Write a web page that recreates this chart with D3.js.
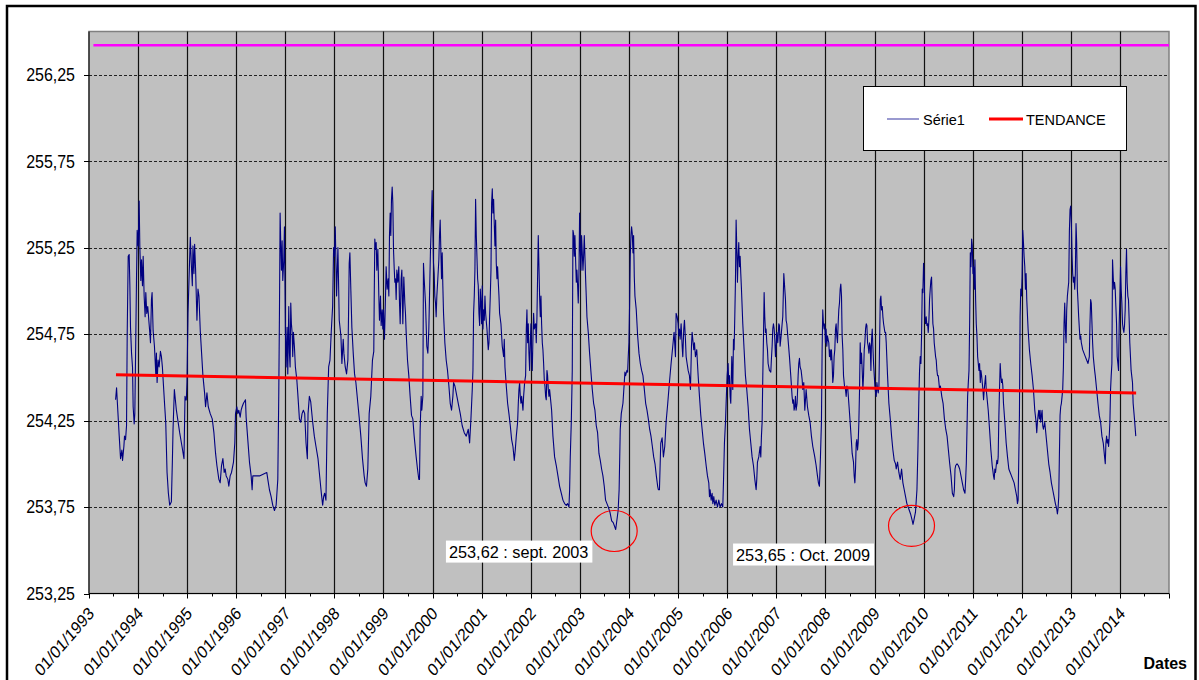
<!DOCTYPE html>
<html><head><meta charset="utf-8">
<script src="https://cdn.jsdelivr.net/npm/d3@7/dist/d3.min.js"></script>
<style>
body{margin:0;background:#fff;}
svg{display:block;font-family:Arial,"Liberation Sans",sans-serif;}
</style>
</head><body>
<svg id="chart" width="1199" height="680"></svg>
<script>
// ---------------- DATA ----------------
const yTicks = [253.25, 253.75, 254.25, 254.75, 255.25, 255.75, 256.25];
const xTickYears = [1993,1994,1995,1996,1997,1998,1999,2000,2001,2002,2003,2004,2005,2006,2007,2008,2009,2010,2011,2012,2013,2014];
const referenceLevel = 256.42;
const referenceSpan = [1993.09, 2015.0];
const trendDates = [1993.55, 2014.33];
const trendLevels = [254.515, 254.41];
const legendNames = ["Série1", "TENDANCE"];
const minimaDates = [2003.73, 2009.785];
const minimaLevels = [253.62, 253.65];
const minimaLabels = ["253,62 : sept. 2003", "253,65 : Oct. 2009"];
const labelDates = [2000.272, 2006.12];
const labelLevels = [253.556, 253.539];

// Série1 : [decimal year, level]
const serie1 = [
[1993.542,254.37],[1993.562,254.44],[1993.575,254.37],[1993.616,254.16],[1993.643,254.03],[1993.670,254.08],[1993.684,254.02],[1993.711,254.10],[1993.724,254.16],[1993.745,254.14],[1993.765,254.22],[1993.779,254.76],[1993.799,255.20],[1993.819,255.21],[1993.833,255.03],[1993.846,254.79],[1993.867,254.64],[1993.887,254.56],[1993.900,254.33],[1993.921,254.23],[1993.934,254.29],[1993.955,254.76],[1993.968,255.06],[1993.982,255.35],
[1994.002,255.26],[1994.022,255.52],[1994.036,255.26],[1994.056,255.06],[1994.070,255.18],[1994.090,255.03],[1994.104,255.20],[1994.124,254.97],[1994.144,254.85],[1994.158,254.99],[1994.178,254.87],[1994.198,254.91],[1994.219,254.83],[1994.239,254.76],[1994.253,254.70],[1994.273,254.95],[1994.286,254.99],[1994.307,254.77],[1994.334,254.68],[1994.361,254.52],[1994.374,254.64],[1994.388,254.47],[1994.408,254.60],[1994.429,254.56],[1994.456,254.65],[1994.476,254.62],[1994.496,254.56],[1994.510,254.49],[1994.544,254.33],[1994.564,254.24],[1994.591,253.95],[1994.618,253.83],[1994.645,253.76],[1994.679,253.78],[1994.699,254.01],[1994.713,254.20],[1994.740,254.43],[1994.781,254.31],[1994.848,254.18],[1994.896,254.10],[1994.936,254.03],[1994.957,254.39],[1994.970,254.37],[1994.984,254.37],[1994.997,254.47],
[1995.018,254.87],[1995.038,255.06],[1995.065,255.31],[1995.085,255.16],[1995.106,255.03],[1995.119,255.26],[1995.139,255.10],[1995.153,255.27],[1995.173,255.12],[1995.200,254.83],[1995.221,255.01],[1995.241,254.97],[1995.268,254.77],[1995.295,254.64],[1995.322,254.51],[1995.356,254.41],[1995.376,254.33],[1995.404,254.41],[1995.431,254.33],[1995.471,254.29],[1995.512,254.26],[1995.546,254.18],[1995.580,254.06],[1995.607,253.99],[1995.647,253.91],[1995.674,253.89],[1995.701,253.99],[1995.729,254.03],[1995.756,253.95],[1995.776,253.97],[1995.796,253.93],[1995.830,253.91],[1995.850,253.87],[1995.877,253.93],[1995.905,253.95],[1995.945,254.01],[1995.972,254.12],[1995.986,254.29],
[1996.013,254.33],[1996.033,254.29],[1996.053,254.31],[1996.081,254.27],[1996.101,254.31],[1996.121,254.33],[1996.148,254.35],[1996.169,254.36],[1996.189,254.37],[1996.202,254.27],[1996.236,254.14],[1996.270,254.01],[1996.304,253.93],[1996.324,253.85],[1996.338,253.93],[1996.473,253.93],[1996.622,253.95],[1996.643,253.91],[1996.676,253.85],[1996.710,253.81],[1996.744,253.76],[1996.778,253.73],[1996.812,253.76],[1996.846,253.91],[1996.866,254.41],[1996.880,254.89],[1996.893,255.45],[1996.907,255.26],[1996.920,255.12],[1996.934,255.29],[1996.947,255.06],[1996.968,255.18],[1996.981,255.37],
[1997.001,254.76],[1997.015,254.56],[1997.035,254.79],[1997.049,254.52],[1997.069,254.91],[1997.083,254.64],[1997.096,254.56],[1997.110,254.93],[1997.123,254.81],[1997.137,254.76],[1997.150,254.62],[1997.164,254.76],[1997.184,254.68],[1997.204,254.56],[1997.232,254.49],[1997.252,254.41],[1997.286,254.26],[1997.313,254.24],[1997.340,254.29],[1997.367,254.31],[1997.394,254.29],[1997.421,254.12],[1997.448,254.03],[1997.462,254.29],[1997.489,254.39],[1997.516,254.36],[1997.557,254.24],[1997.590,254.16],[1997.624,254.10],[1997.665,254.03],[1997.692,253.95],[1997.733,253.83],[1997.760,253.76],[1997.780,253.81],[1997.800,253.83],[1997.827,253.79],[1997.854,254.29],[1997.882,254.56],[1997.909,254.60],[1997.936,254.77],[1997.963,254.91],[1997.983,255.25],[1997.997,255.20],
[1998.017,255.37],[1998.031,255.16],[1998.044,254.97],[1998.058,255.12],[1998.071,255.25],[1998.098,254.83],[1998.132,254.74],[1998.152,254.58],[1998.179,254.72],[1998.193,254.64],[1998.220,254.56],[1998.247,254.52],[1998.274,254.60],[1998.288,254.87],[1998.301,255.16],[1998.315,255.22],[1998.335,255.00],[1998.355,254.79],[1998.383,254.64],[1998.410,254.52],[1998.437,254.47],[1998.477,254.35],[1998.504,254.27],[1998.538,254.16],[1998.572,254.03],[1998.606,253.93],[1998.626,253.89],[1998.653,253.87],[1998.680,253.97],[1998.708,254.29],[1998.741,254.39],[1998.775,254.60],[1998.802,254.65],[1998.810,254.93],[1998.823,255.30],[1998.837,255.24],[1998.851,255.28],[1998.864,255.12],[1998.885,255.24],[1998.905,254.97],[1998.918,254.83],[1998.939,254.97],[1998.952,254.80],[1998.973,254.89],[1998.986,254.78],
[1999.000,254.89],[1999.020,254.72],[1999.041,254.97],[1999.054,255.14],[1999.075,255.01],[1999.095,255.07],[1999.109,254.97],[1999.122,255.32],[1999.136,255.45],[1999.149,255.32],[1999.163,255.53],[1999.177,255.60],[1999.190,255.51],[1999.204,255.24],[1999.217,255.14],[1999.231,255.05],[1999.245,255.07],[1999.258,254.95],[1999.272,255.12],[1999.292,255.05],[1999.312,255.14],[1999.326,254.93],[1999.340,254.81],[1999.360,255.07],[1999.374,255.12],[1999.394,254.81],[1999.414,255.08],[1999.435,254.93],[1999.448,254.87],[1999.462,254.76],[1999.489,254.60],[1999.516,254.51],[1999.543,254.39],[1999.571,254.28],[1999.598,254.26],[1999.625,254.16],[1999.666,254.04],[1999.693,253.97],[1999.720,253.91],[1999.734,253.91],[1999.747,254.20],[1999.768,254.39],[1999.781,254.31],[1999.802,254.39],[1999.815,255.16],[1999.829,255.07],[1999.856,254.93],[1999.883,254.68],[1999.904,254.64],[1999.924,254.78],[1999.938,254.97],[1999.958,255.24],[1999.971,255.35],[1999.992,255.58],
[2000.005,255.37],[2000.019,255.16],[2000.033,255.10],[2000.046,254.97],[2000.060,254.93],[2000.073,254.85],[2000.087,254.97],[2000.107,255.07],[2000.128,255.18],[2000.141,255.32],[2000.155,255.41],[2000.168,255.24],[2000.182,255.07],[2000.196,255.22],[2000.209,255.03],[2000.223,254.87],[2000.250,254.70],[2000.277,254.60],[2000.304,254.54],[2000.332,254.45],[2000.359,254.35],[2000.386,254.31],[2000.413,254.39],[2000.427,254.47],[2000.454,254.45],[2000.481,254.41],[2000.522,254.35],[2000.563,254.29],[2000.603,254.22],[2000.644,254.18],[2000.685,254.16],[2000.726,254.20],[2000.753,254.12],[2000.780,254.26],[2000.807,254.43],[2000.821,254.54],[2000.834,254.87],[2000.848,254.97],[2000.861,255.12],[2000.875,255.53],[2000.889,255.32],[2000.902,255.20],[2000.916,255.07],[2000.929,255.03],[2000.943,254.87],[2000.957,254.80],[2000.970,255.01],[2000.984,254.93],[2000.997,254.81],
[2001.011,255.03],[2001.024,254.78],[2001.038,254.89],[2001.052,254.83],[2001.065,254.97],[2001.079,254.87],[2001.106,254.78],[2001.133,254.66],[2001.147,254.70],[2001.160,254.85],[2001.174,254.97],[2001.188,255.12],[2001.201,255.51],[2001.215,255.59],[2001.228,255.45],[2001.242,255.53],[2001.255,255.39],[2001.269,255.26],[2001.283,255.41],[2001.296,255.16],[2001.310,255.07],[2001.323,255.14],[2001.337,255.05],[2001.351,254.97],[2001.364,254.87],[2001.391,254.81],[2001.418,254.68],[2001.446,254.62],[2001.459,254.72],[2001.473,254.56],[2001.500,254.45],[2001.527,254.35],[2001.554,254.29],[2001.582,254.22],[2001.609,254.14],[2001.636,254.10],[2001.663,254.02],[2001.683,254.08],[2001.704,254.16],[2001.731,254.24],[2001.745,254.35],[2001.758,254.43],[2001.772,254.47],[2001.785,254.39],[2001.799,254.35],[2001.813,254.39],[2001.840,254.31],[2001.853,254.39],[2001.874,254.47],[2001.894,254.51],[2001.908,254.78],[2001.921,254.89],[2001.935,254.70],[2001.948,254.81],[2001.962,254.64],[2001.976,254.54],[2001.989,254.70],
[2002.003,254.81],[2002.016,254.62],[2002.030,254.54],[2002.043,254.72],[2002.057,254.87],[2002.071,254.78],[2002.084,254.80],[2002.098,254.81],[2002.111,254.70],[2002.125,254.85],[2002.152,255.32],[2002.166,255.14],[2002.179,254.97],[2002.193,254.85],[2002.207,254.97],[2002.220,254.81],[2002.234,254.70],[2002.247,254.66],[2002.261,254.58],[2002.274,254.49],[2002.288,254.45],[2002.302,254.39],[2002.315,254.37],[2002.329,254.54],[2002.342,254.51],[2002.356,254.43],[2002.370,254.39],[2002.383,254.43],[2002.397,254.39],[2002.424,254.31],[2002.451,254.16],[2002.485,254.04],[2002.519,253.99],[2002.553,253.93],[2002.587,253.87],[2002.621,253.83],[2002.655,253.79],[2002.689,253.77],[2002.723,253.76],[2002.750,253.77],[2002.777,253.75],[2002.791,253.85],[2002.804,254.04],[2002.825,254.24],[2002.845,254.54],[2002.859,255.35],[2002.872,255.33],[2002.886,255.20],[2002.899,255.32],[2002.913,255.18],[2002.927,255.05],[2002.940,255.12],[2002.954,255.03],[2002.967,254.93],[2002.981,255.10],[2002.995,255.45],
[2003.008,255.24],[2003.022,255.12],[2003.035,255.32],[2003.049,255.22],[2003.063,255.12],[2003.076,255.20],[2003.090,255.32],[2003.103,255.20],[2003.117,255.07],[2003.130,254.97],[2003.144,254.85],[2003.171,254.76],[2003.198,254.64],[2003.226,254.53],[2003.253,254.43],[2003.280,254.35],[2003.307,254.31],[2003.334,254.22],[2003.361,254.18],[2003.389,254.06],[2003.416,254.02],[2003.443,253.97],[2003.470,253.93],[2003.497,253.87],[2003.524,253.79],[2003.552,253.77],[2003.579,253.75],[2003.613,253.72],[2003.648,253.67],[2003.680,253.66],[2003.730,253.62],[2003.780,253.73],[2003.800,253.85],[2003.823,254.20],[2003.844,254.29],[2003.878,254.35],[2003.905,254.47],[2003.918,254.53],[2003.932,254.51],[2003.959,254.54],[2003.973,254.53],[2003.986,254.62],
[2004.000,254.70],[2004.014,254.93],[2004.027,255.20],[2004.041,255.32],[2004.054,255.37],[2004.068,255.33],[2004.082,255.22],[2004.095,255.32],[2004.109,255.08],[2004.122,254.97],[2004.149,254.89],[2004.177,254.74],[2004.204,254.64],[2004.231,254.58],[2004.258,254.54],[2004.285,254.51],[2004.313,254.43],[2004.340,254.35],[2004.367,254.31],[2004.394,254.26],[2004.421,254.20],[2004.448,254.16],[2004.476,254.10],[2004.503,254.04],[2004.530,254.00],[2004.557,253.93],[2004.584,253.87],[2004.598,253.85],[2004.620,253.85],[2004.647,254.12],[2004.674,254.15],[2004.701,254.04],[2004.728,254.10],[2004.755,254.24],[2004.789,254.35],[2004.823,254.47],[2004.857,254.58],[2004.891,254.68],[2004.918,254.76],[2004.946,254.62],[2004.959,254.87],[2004.980,254.85],
[2005.000,254.81],[2005.014,254.74],[2005.027,254.78],[2005.041,254.72],[2005.061,254.81],[2005.082,254.68],[2005.095,254.62],[2005.115,254.78],[2005.129,254.83],[2005.149,254.72],[2005.163,254.62],[2005.183,254.58],[2005.204,254.54],[2005.231,254.51],[2005.251,254.43],[2005.272,254.68],[2005.285,254.76],[2005.299,254.72],[2005.319,254.66],[2005.333,254.70],[2005.353,254.62],[2005.380,254.66],[2005.394,254.58],[2005.408,254.51],[2005.435,254.39],[2005.462,254.28],[2005.489,254.20],[2005.516,254.12],[2005.543,254.06],[2005.571,253.99],[2005.598,253.93],[2005.625,253.89],[2005.639,253.81],[2005.652,253.85],[2005.673,253.79],[2005.693,253.83],[2005.707,253.77],[2005.727,253.81],[2005.747,253.76],[2005.774,253.79],[2005.802,253.75],[2005.829,253.79],[2005.856,253.75],[2005.883,253.77],[2005.910,253.75],[2005.924,253.89],[2005.944,254.12],[2005.965,254.24],[2005.978,254.35],[2005.999,254.51],
[2006.019,254.58],[2006.033,254.45],[2006.046,254.51],[2006.060,254.39],[2006.073,254.35],[2006.094,254.62],[2006.114,254.43],[2006.128,254.72],[2006.141,254.66],[2006.155,254.85],[2006.168,255.05],[2006.182,255.41],[2006.196,255.24],[2006.209,255.05],[2006.223,255.20],[2006.236,255.28],[2006.250,255.14],[2006.264,255.20],[2006.277,255.10],[2006.291,255.01],[2006.318,254.81],[2006.345,254.66],[2006.372,254.51],[2006.399,254.43],[2006.427,254.33],[2006.454,254.20],[2006.481,254.12],[2006.508,254.04],[2006.535,253.99],[2006.563,253.91],[2006.590,253.85],[2006.603,253.91],[2006.617,254.01],[2006.644,254.04],[2006.671,254.10],[2006.685,254.04],[2006.698,254.16],[2006.712,254.24],[2006.726,254.51],[2006.739,254.72],[2006.753,254.99],[2006.766,254.85],[2006.780,254.76],[2006.793,254.78],[2006.807,254.70],[2006.821,254.66],[2006.834,254.58],[2006.861,254.54],[2006.889,254.53],[2006.902,254.61],[2006.916,254.68],[2006.929,254.78],[2006.943,254.81],[2006.957,254.78],[2006.970,254.72],[2006.984,254.62],[2006.997,254.68],
[2007.011,254.76],[2007.031,254.70],[2007.052,254.81],[2007.065,254.80],[2007.079,254.68],[2007.099,254.74],[2007.120,254.81],[2007.133,254.85],[2007.154,255.10],[2007.174,255.01],[2007.188,254.95],[2007.201,254.83],[2007.215,254.81],[2007.235,254.74],[2007.269,254.62],[2007.296,254.51],[2007.323,254.39],[2007.337,254.35],[2007.351,254.37],[2007.364,254.31],[2007.378,254.33],[2007.391,254.39],[2007.405,254.31],[2007.425,254.35],[2007.446,254.51],[2007.459,254.58],[2007.473,254.61],[2007.486,254.56],[2007.507,254.54],[2007.527,254.49],[2007.541,254.43],[2007.561,254.47],[2007.582,254.31],[2007.609,254.43],[2007.636,254.33],[2007.663,254.28],[2007.690,254.24],[2007.717,254.16],[2007.745,254.10],[2007.772,254.06],[2007.785,254.04],[2007.813,253.99],[2007.840,253.93],[2007.860,253.89],[2007.880,253.87],[2007.901,254.04],[2007.921,254.24],[2007.935,254.66],[2007.948,254.89],[2007.962,254.81],[2007.976,254.78],[2007.989,254.81],
[2008.003,254.70],[2008.016,254.78],[2008.030,254.68],[2008.043,254.74],[2008.057,254.72],[2008.071,254.70],[2008.084,254.62],[2008.098,254.66],[2008.111,254.60],[2008.125,254.66],[2008.139,254.58],[2008.152,254.47],[2008.166,254.51],[2008.179,254.62],[2008.193,254.66],[2008.207,254.78],[2008.220,254.81],[2008.234,254.74],[2008.247,254.70],[2008.261,254.81],[2008.274,254.89],[2008.288,254.93],[2008.302,255.01],[2008.315,255.04],[2008.329,254.97],[2008.342,254.74],[2008.356,254.66],[2008.370,254.51],[2008.390,254.45],[2008.410,254.43],[2008.424,254.39],[2008.438,254.45],[2008.458,254.43],[2008.478,254.35],[2008.505,254.24],[2008.533,254.12],[2008.546,254.06],[2008.573,254.01],[2008.587,253.93],[2008.601,253.89],[2008.614,253.97],[2008.628,254.12],[2008.641,254.14],[2008.655,254.08],[2008.668,254.12],[2008.682,254.24],[2008.696,254.43],[2008.709,254.70],[2008.723,254.58],[2008.736,254.64],[2008.750,254.54],[2008.764,254.43],[2008.777,254.51],[2008.791,254.66],[2008.804,254.70],[2008.818,254.78],[2008.832,254.81],[2008.845,254.80],[2008.859,254.70],[2008.872,254.68],[2008.886,254.64],[2008.899,254.70],[2008.913,254.68],[2008.927,254.54],[2008.940,254.72],[2008.954,254.78],[2008.967,254.68],[2008.981,254.58],[2008.995,254.51],
[2009.008,254.45],[2009.022,254.41],[2009.035,254.39],[2009.049,254.47],[2009.063,254.43],[2009.076,254.41],[2009.090,254.45],[2009.103,254.68],[2009.117,254.95],[2009.130,254.97],[2009.144,254.89],[2009.158,254.91],[2009.171,254.85],[2009.185,254.81],[2009.212,254.76],[2009.226,254.76],[2009.239,254.70],[2009.266,254.51],[2009.293,254.35],[2009.321,254.26],[2009.348,254.16],[2009.375,254.08],[2009.402,254.02],[2009.429,254.00],[2009.443,253.97],[2009.470,254.01],[2009.497,253.95],[2009.524,253.91],[2009.552,253.97],[2009.579,253.89],[2009.606,253.85],[2009.633,253.81],[2009.660,253.77],[2009.698,253.74],[2009.735,253.71],[2009.770,253.67],[2009.785,253.65],[2009.800,253.67],[2009.835,253.72],[2009.865,253.85],[2009.885,254.08],[2009.905,254.39],[2009.918,254.54],[2009.932,254.62],[2009.946,254.58],[2009.959,254.74],[2009.973,255.01],[2009.986,254.99],
[2010.000,255.16],[2010.014,255.08],[2010.027,254.85],[2010.041,254.81],[2010.054,254.85],[2010.068,254.80],[2010.082,254.81],[2010.095,254.76],[2010.109,254.83],[2010.122,254.95],[2010.136,255.01],[2010.149,255.06],[2010.163,255.08],[2010.177,254.93],[2010.190,254.81],[2010.204,254.78],[2010.217,254.70],[2010.231,254.66],[2010.245,254.62],[2010.258,254.60],[2010.272,254.54],[2010.285,254.51],[2010.299,254.51],[2010.313,254.47],[2010.326,254.43],[2010.343,254.45],[2010.371,254.39],[2010.398,254.35],[2010.425,254.26],[2010.452,254.20],[2010.479,254.16],[2010.506,254.08],[2010.533,254.00],[2010.560,253.93],[2010.587,253.83],[2010.614,253.81],[2010.628,253.85],[2010.641,253.97],[2010.655,253.99],[2010.682,254.00],[2010.709,253.99],[2010.736,253.97],[2010.763,253.93],[2010.790,253.89],[2010.817,253.85],[2010.844,253.83],[2010.858,253.91],[2010.871,254.00],[2010.885,254.20],[2010.898,254.39],[2010.912,254.47],[2010.926,254.54],[2010.939,254.81],[2010.946,255.01],[2010.953,255.22],[2010.966,255.14],[2010.980,255.30],[2010.993,255.26],
[2011.007,255.10],[2011.020,255.14],[2011.034,255.01],[2011.047,255.18],[2011.061,254.95],[2011.074,254.81],[2011.088,254.74],[2011.102,254.62],[2011.129,254.54],[2011.142,254.58],[2011.156,254.47],[2011.169,254.54],[2011.183,254.51],[2011.196,254.47],[2011.210,254.43],[2011.223,254.37],[2011.237,254.43],[2011.250,254.47],[2011.264,254.51],[2011.277,254.43],[2011.291,254.39],[2011.318,254.31],[2011.345,254.20],[2011.372,254.08],[2011.399,253.99],[2011.426,253.93],[2011.440,253.91],[2011.453,253.97],[2011.467,253.95],[2011.481,253.99],[2011.494,254.02],[2011.508,254.00],[2011.521,254.04],[2011.535,254.28],[2011.548,254.43],[2011.562,254.58],[2011.575,254.51],[2011.589,254.47],[2011.602,254.49],[2011.616,254.45],[2011.629,254.35],[2011.657,254.24],[2011.684,254.12],[2011.711,254.04],[2011.738,253.97],[2011.765,253.95],[2011.792,253.93],[2011.819,253.91],[2011.846,253.89],[2011.873,253.85],[2011.900,253.81],[2011.914,253.77],[2011.927,253.79],[2011.941,254.04],[2011.954,254.28],[2011.968,254.85],[2011.981,255.01],[2011.995,254.97],
[2012.008,255.08],[2012.022,255.35],[2012.036,255.28],[2012.049,255.20],[2012.063,255.14],[2012.076,255.01],[2012.090,255.10],[2012.103,254.95],[2012.130,254.78],[2012.157,254.66],[2012.184,254.58],[2012.212,254.51],[2012.239,254.43],[2012.266,254.31],[2012.293,254.24],[2012.306,254.18],[2012.320,254.24],[2012.333,254.28],[2012.347,254.31],[2012.360,254.26],[2012.374,254.31],[2012.387,254.24],[2012.401,254.28],[2012.415,254.31],[2012.428,254.22],[2012.442,254.20],[2012.469,254.24],[2012.496,254.16],[2012.523,254.08],[2012.550,254.00],[2012.577,253.95],[2012.604,253.89],[2012.631,253.85],[2012.658,253.81],[2012.685,253.77],[2012.712,253.74],[2012.726,253.71],[2012.739,253.74],[2012.753,253.81],[2012.766,254.04],[2012.780,254.28],[2012.793,254.33],[2012.807,254.35],[2012.821,254.39],[2012.834,254.43],[2012.848,254.56],[2012.861,254.81],[2012.875,254.93],[2012.888,254.78],[2012.902,254.70],[2012.915,254.89],[2012.929,254.97],[2012.942,255.01],[2012.956,255.05],[2012.970,255.35],[2012.983,255.47],[2012.997,255.49],
[2013.010,255.39],[2013.024,255.20],[2013.037,255.10],[2013.051,255.05],[2013.064,255.08],[2013.078,255.01],[2013.091,255.10],[2013.105,255.39],[2013.118,255.28],[2013.132,255.01],[2013.146,254.93],[2013.159,254.85],[2013.173,254.78],[2013.186,254.72],[2013.200,254.74],[2013.213,254.70],[2013.227,254.68],[2013.240,254.66],[2013.267,254.64],[2013.294,254.62],[2013.321,254.60],[2013.349,254.58],[2013.376,254.62],[2013.389,254.81],[2013.403,254.95],[2013.416,254.93],[2013.430,254.81],[2013.443,254.70],[2013.457,254.62],[2013.470,254.58],[2013.484,254.54],[2013.497,254.51],[2013.525,254.43],[2013.552,254.35],[2013.579,254.28],[2013.606,254.24],[2013.633,254.16],[2013.660,254.12],[2013.687,254.04],[2013.701,254.00],[2013.714,254.12],[2013.728,254.16],[2013.741,254.12],[2013.755,254.14],[2013.768,254.10],[2013.782,254.16],[2013.795,254.24],[2013.809,254.43],[2013.822,254.51],[2013.836,254.58],[2013.849,255.18],[2013.863,255.08],[2013.876,255.01],[2013.890,255.05],[2013.904,255.01],[2013.917,254.91],[2013.931,254.81],[2013.944,254.62],[2013.958,254.58],[2013.971,254.54],[2013.985,254.81],[2013.998,254.95],
[2014.012,255.14],[2014.025,255.01],[2014.039,254.93],[2014.053,254.81],[2014.066,254.78],[2014.080,254.76],[2014.093,254.80],[2014.107,254.89],[2014.120,255.10],[2014.134,255.24],[2014.147,255.05],[2014.161,254.97],[2014.174,254.95],[2014.188,254.83],[2014.201,254.70],[2014.228,254.54],[2014.256,254.47],[2014.269,254.35],[2014.296,254.26],[2014.323,254.16]
];

// ---------------- CHART ----------------
function toDate(v){
  const yr = Math.floor(v);
  const a = new Date(yr,0,1), b = new Date(yr+1,0,1);
  return new Date(+a + (v-yr)*(b-a));
}
const W = 1199, H = 680;
const plot = {left:89, right:1169, top:31.5, bottom:593.5};
const svg = d3.select("#chart");

const x = d3.scaleTime().domain([new Date(1993,0,1), new Date(2015,0,1)]).range([plot.left, plot.right]);
const y = d3.scaleLinear().domain([253.25, 256.5]).range([plot.bottom, plot.top]);
const frLocale = d3.formatLocale({decimal:",", thousands:" ", grouping:[3], currency:["","€"]});
const fmtY = frLocale.format(".2f");
const fmtX = d3.timeFormat("%d/%m/%Y");

// white background + outer frame
svg.append("rect").attr("width",W).attr("height",H).attr("fill","#fff");
svg.append("rect").attr("x",7).attr("y",6).attr("width",1188.5).attr("height",720)
  .attr("fill","none").attr("stroke","#000").attr("stroke-width",2.5);

// plot area
svg.append("rect").attr("x",plot.left).attr("y",plot.top)
  .attr("width",plot.right-plot.left).attr("height",plot.bottom-plot.top)
  .attr("fill","#c0c0c0").attr("stroke","#808080").attr("stroke-width",1.5);

// horizontal dashed gridlines
svg.append("g").selectAll("line").data(yTicks.filter(v=>v>253.25)).join("line")
  .attr("x1",plot.left).attr("x2",plot.right)
  .attr("y1",d=>Math.round(y(d))+0.5).attr("y2",d=>Math.round(y(d))+0.5)
  .attr("stroke","#222").attr("stroke-width",1).attr("stroke-dasharray","3,2");

// vertical gridlines (years)
svg.append("g").selectAll("line").data(xTickYears.slice(1)).join("line")
  .attr("x1",d=>Math.round(x(new Date(d,0,1)))+0.5).attr("x2",d=>Math.round(x(new Date(d,0,1)))+0.5)
  .attr("y1",plot.top).attr("y2",plot.bottom)
  .attr("stroke","#111").attr("stroke-width",1.2);

// Y axis
const yAxisG = svg.append("g");
yAxisG.append("line").attr("x1",plot.left).attr("x2",plot.left).attr("y1",plot.top).attr("y2",plot.bottom).attr("stroke","#000");
yAxisG.selectAll("line.t").data(yTicks).join("line").attr("class","t")
  .attr("x1",plot.left-5).attr("x2",plot.left)
  .attr("y1",d=>Math.round(y(d))+0.5).attr("y2",d=>Math.round(y(d))+0.5).attr("stroke","#000");
yAxisG.selectAll("text").data(yTicks).join("text")
  .attr("transform",d=>`translate(75,${y(d)}) scale(1,1.1)`)
  .attr("dy","0.36em").attr("text-anchor","end")
  .attr("font-size",16).attr("fill","#000").text(d=>fmtY(d));

// X axis
const xAxisG = svg.append("g");
xAxisG.append("line").attr("x1",plot.left).attr("x2",plot.right).attr("y1",plot.bottom).attr("y2",plot.bottom).attr("stroke","#000");
const majorYears = xTickYears.concat([2015]);
xAxisG.selectAll("line.maj").data(majorYears).join("line").attr("class","maj")
  .attr("x1",d=>Math.round(x(new Date(d,0,1)))+0.5).attr("x2",d=>Math.round(x(new Date(d,0,1)))+0.5)
  .attr("y1",plot.bottom).attr("y2",plot.bottom+5).attr("stroke","#000");
xAxisG.selectAll("line.min").data(xTickYears).join("line").attr("class","min")
  .attr("x1",d=>Math.round(x(new Date(d,6,2)))+0.5).attr("x2",d=>Math.round(x(new Date(d,6,2)))+0.5)
  .attr("y1",plot.bottom).attr("y2",plot.bottom+3).attr("stroke","#000");
xAxisG.selectAll("text").data(xTickYears).join("text")
  .attr("transform",d=>`translate(${x(new Date(d,0,1))+6},${plot.bottom+21}) scale(1,1.16) rotate(-45)`)
  .attr("text-anchor","end").attr("font-size",15.3).attr("fill","#000")
  .text(d=>fmtX(new Date(d,0,1)));
svg.append("text").attr("x",1187).attr("y",669).attr("text-anchor","end")
  .attr("font-size",16).attr("font-weight","bold").text("Dates");

// reference (magenta) line
svg.append("line")
  .attr("x1",x(toDate(referenceSpan[0]))).attr("x2",x(toDate(referenceSpan[1])))
  .attr("y1",y(referenceLevel)).attr("y2",y(referenceLevel))
  .attr("stroke","#ff00ff").attr("stroke-width",2.5);

// Série1
const line = d3.line().x(d=>x(toDate(d[0]))).y(d=>y(d[1]));
svg.append("path").datum(serie1).attr("d",line)
  .attr("fill","none").attr("stroke","#000080").attr("stroke-width",1.1).attr("stroke-linejoin","round");

// trend
const trend = trendDates.map((d,i)=>[d,trendLevels[i]]);
svg.append("path").datum(trend).attr("d",line)
  .attr("fill","none").attr("stroke","#ff0000").attr("stroke-width",3);

// minima circles + labels
minimaDates.forEach((d,i)=>{
  const cx = x(toDate(d)), cy = y(minimaLevels[i]);
  svg.append("ellipse").attr("cx",cx-1.5).attr("cy",cy+1.5).attr("rx",23).attr("ry",20.5)
    .attr("fill","none").attr("stroke","#ff0000").attr("stroke-width",1.2);
  const lx = x(toDate(labelDates[i])), ly = y(labelLevels[i]);
  const g = svg.append("g");
  const t = g.append("text").attr("x",lx+3).attr("y",ly+17).attr("font-size",16.3).attr("fill","#000").text(minimaLabels[i]);
  const bb = t.node().getBBox();
  g.insert("rect","text").attr("x",lx).attr("y",ly).attr("width",bb.width+7).attr("height",22).attr("fill","#fff");
});

// legend
const lg = svg.append("g");
lg.append("rect").attr("x",863.5).attr("y",86.5).attr("width",263).attr("height",64)
  .attr("fill","#fff").attr("stroke","#000").attr("stroke-width",1);
lg.append("line").attr("x1",887).attr("x2",919).attr("y1",119).attr("y2",119).attr("stroke","#7878c0").attr("stroke-width",1.5);
lg.append("text").attr("x",923).attr("y",124.5).attr("font-size",14.5).text(legendNames[0]);
lg.append("line").attr("x1",989).attr("x2",1023).attr("y1",119).attr("y2",119).attr("stroke","#ff0000").attr("stroke-width",3);
lg.append("text").attr("x",1026).attr("y",124.5).attr("font-size",14.5).text(legendNames[1]);
</script>
</body></html>
